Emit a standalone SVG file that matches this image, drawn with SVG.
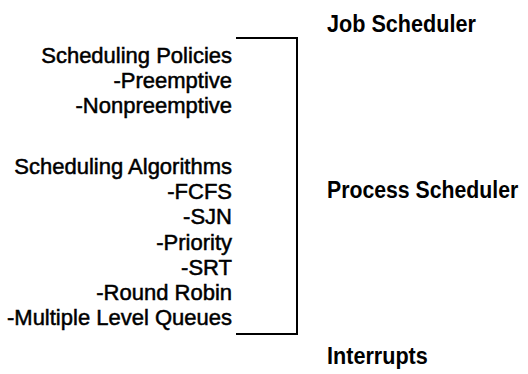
<svg xmlns="http://www.w3.org/2000/svg" width="528" height="374" viewBox="0 0 528 374">
<style>
.item{font-family:"Liberation Sans",Arial,sans-serif;font-size:22px;fill:#000;stroke:#000;stroke-width:0.5;text-anchor:end}
.head{font-family:"Liberation Sans",Arial,sans-serif;font-size:24px;font-weight:bold;fill:#000}
.line{fill:none;stroke:#000;stroke-width:2}
</style>
<rect width="528" height="374" fill="#fff"/>
<g id="job-scheduler" transform="translate(327,32) scale(0.9,1)"><text class="head" x="0" y="0">Job Scheduler</text></g>
<g id="process-scheduler" transform="translate(327,198) scale(0.885,1)"><text class="head" x="0" y="0">Process Scheduler</text></g>
<g id="interrupts" transform="translate(327,364) scale(0.9,1)"><text class="head" x="0" y="0">Interrupts</text></g>
<g id="policies">
<text class="item" x="232" y="63">Scheduling Policies</text>
<text class="item" x="232" y="88">-Preemptive</text>
<text class="item" x="232" y="113">-Nonpreemptive</text>
</g>
<g id="algorithms">
<text class="item" x="232" y="174">Scheduling Algorithms</text>
<text class="item" x="232" y="199">-FCFS</text>
<text class="item" x="232" y="224">-SJN</text>
<text class="item" x="232" y="250">-Priority</text>
<text class="item" x="232" y="275">-SRT</text>
<text class="item" x="232" y="300">-Round Robin</text>
<text class="item" x="232" y="325">-Multiple Level Queues</text>
</g>
<g id="connectors">
<polyline class="line" points="236,38 297,38 297,334 236,334"/>
</g>
</svg>
